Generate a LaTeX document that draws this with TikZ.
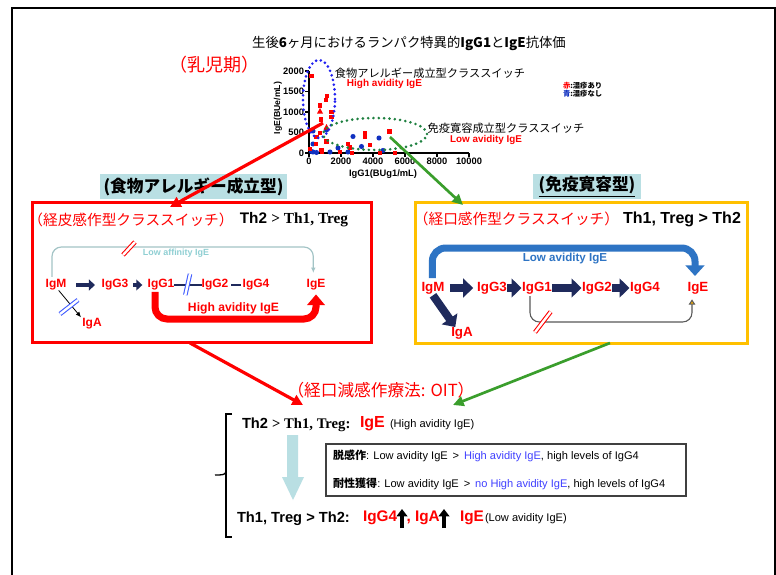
\documentclass[tikz,border=0pt]{standalone}
\usepackage{fontspec}
\setmainfont{Liberation Sans}
\newfontfamily\jp{Noto Sans CJK JP}
\newfontfamily\tms{Liberation Serif}
\usetikzlibrary{arrows.meta,calc}
\newcommand\fsz[1]{\fontsize{#1}{#1}\selectfont}
\definecolor{ired}{HTML}{FF0000}
\definecolor{navy}{HTML}{1F2A5C}
\definecolor{hdrbg}{HTML}{B9DFE3}
\definecolor{gold}{HTML}{FFC000}
\definecolor{avblue}{HTML}{2E74C4}
\definecolor{tealgray}{HTML}{A3C4C6}
\definecolor{tealtxt}{HTML}{8FCFD3}
\definecolor{agreen}{HTML}{3A9E2C}
\definecolor{dotblue}{HTML}{2020F0}
\definecolor{dotgreen}{HTML}{1E8040}
\definecolor{ptblue}{HTML}{1030C0}
\definecolor{hblue}{HTML}{4040FF}
\definecolor{slashblue}{HTML}{3F5BFF}
\definecolor{boxgray}{HTML}{404040}
\definecolor{ltarrow}{HTML}{B9DFE3}
\begin{document}
\begin{tikzpicture}[x=0.75pt,y=-0.75pt,
 txt/.style={inner sep=0pt,outer sep=0pt},
 igl/.style={txt,text=ired,font=\bfseries\fsz{9}},
 igr/.style={txt,text=ired,font=\bfseries\fsz{10}},
 jpt/.style={txt,font=\jp\fsz{8.4}},
 blkbig/.style={draw=navy,line width=6pt,-{Triangle[length=7.5pt,width=14pt]}},
 blksm/.style={draw=navy,line width=3pt,-{Triangle[length=4.5pt,width=8pt]}},
 dsl/.style={double=white,double distance=1.8pt,line width=0.8pt},
 dotb/.style={draw=dotblue,line width=2.2pt,line cap=round,dash pattern=on 0pt off 3.6pt},
 dotg/.style={draw=dotgreen,line width=2.2pt,line cap=round,dash pattern=on 0pt off 4pt},
 hdr/.style={fill=hdrbg,inner sep=0pt,font=\jp\bfseries\fsz{12.5}},
 axlab/.style={txt,font=\bfseries\fsz{7}},
]
\useasboundingbox (0,0) rectangle (776,575);
\fill[white] (0,0) rectangle (776,575);
% frame
\draw[line width=1.5pt] (11.5,580) -- (11.5,7.5) -- (774.5,7.5) -- (774.5,580);

% title
\node[txt,font=\jp\fsz{10}] (title) at (409,43) {生後{\bfseries 6}ヶ月におけるランパク特異的{\bfseries IgG1}と{\bfseries IgE}抗体価};
\node[txt,text=ired,font=\jp\fsz{13.5}] (infant) at (214,65) {（乳児期）};

% scatter axes
\draw[line width=1.3pt] (309,71) -- (309,153) -- (469,153);
\foreach \v/\yy in {2000/71,1500/91.5,1000/112,500/132.5,0/153}{
  \draw[line width=1pt] (305,\yy) -- (309,\yy);
  \node[axlab,anchor=east] at (304,\yy) {\v};
}
\foreach \v/\xx in {0/309,2000/341,4000/373,6000/405,8000/437,10000/469}{
  \draw[line width=1pt] (\xx,153) -- (\xx,157);
  \node[axlab] at (\xx,161) {\v};
}
\node[txt,font=\bfseries\fsz{7}] (xlab) at (383,174) {IgG1(BUg1/mL)};
\node[txt,font=\bfseries\fsz{6.5},rotate=90] (ylab) at (278,108) {IgE(BUe/mL)};

% data points
\foreach \px/\py in {313/131,313/144,311.5/151.5,316.5/152.5,326.5/130,338/148,348/152,353/136.5,379/138,361.5/146.5,383/150.5,313/152,330/152}
  \fill[ptblue] (\px,\py) circle (1.9pt);
\foreach \px/\py in {311.5/76,327/96,326/100,320/105.5,331.5/112,331.5/117,321/119.5,320/133,316.5/137,326.5/141.5,321.5/150,310/149,348/144,350/147.5,365/133,365/137,370/145,389.5/131.5,352/153,380/153,395/153,340/152,322/152,316/144}
  \fill[ired] (\px-2.3,\py-2.3) rectangle ++(4.6,4.6);
\foreach \px/\py in {320/111,326.5/127}
  \fill[ired] (\px,\py-3) -- (\px+3,\py+2.5) -- (\px-3,\py+2.5) -- cycle;

% ellipses
\draw[dotb] (319,99) ellipse [x radius=12pt, y radius=29.25pt];
\draw[dotg] (375,134) ellipse [x radius=39pt, y radius=12pt];

% scatter texts
\node[jpt] (allergyT) at (430,73) {食物アレルギー成立型クラススイッチ};
\node[txt,text=ired,font=\bfseries\fsz{7.5}] (highT) at (384.5,84) {High avidity IgE};
\node[jpt] (tolT) at (506,128) {免疫寛容成立型クラススイッチ};
\node[txt,text=ired,font=\bfseries\fsz{7.4}] (lowT) at (486,140) {Low avidity IgE};
\node[txt,anchor=west,font=\jp\bfseries\fsz{5.5}] (leg1) at (563,86) {\textcolor{ired}{赤}:湿疹あり};
\node[txt,anchor=west,font=\jp\bfseries\fsz{5.5}] (leg2) at (563,93.5) {\textcolor{ptblue}{青}:湿疹なし};

% headers and boxes
\node[hdr,minimum width=140pt,minimum height=18.75pt] (lhdr) at (193.5,186.5) {(食物アレルギー成立型)};
\node[hdr,minimum width=81pt,minimum height=18.75pt] (rhdr) at (587,186.5) {\underline{(免疫寛容型)}};
\node[draw=ired,line width=2.25pt,minimum width=254pt,minimum height=105pt,inner sep=0pt] (lbox) at (202,272) {};
\node[draw=gold,line width=2.25pt,minimum width=249pt,minimum height=105.75pt,inner sep=0pt] (rbox) at (581,272.5) {};

% arrows from scatter
\coordinate (sR1) at (323,123);
\coordinate (sR2) at (170,207);
\coordinate (sG1) at (390,137);
\coordinate (sG2) at (463,205);
\draw[ired,line width=2.4pt,-{Triangle[length=8pt,width=8pt]}] (sR1) -- (sR2);
\draw[agreen,line width=2pt,-{Triangle[length=8pt,width=7.5pt]}] (sG1) -- (sG2);

% left box content
\node[txt,text=ired,font=\jp\fsz{11}] (lsub) at (131,220) {（経皮感作型クラススイッチ）};
\node[txt,font=\bfseries\fsz{11.5}] (lth) at (294,220) {Th2 {\tms > Th1, Treg}};
\node[igl] (lIgM) at (56,285) {IgM};
\node[igl] (lIgG3) at (115,285) {IgG3};
\node[igl] (lIgG1) at (161,285) {IgG1};
\node[igl] (lIgG2) at (215,285) {IgG2};
\node[igl] (lIgG4) at (256,285) {IgG4};
\node[igl] (lIgE) at (316,285) {IgE};
\node[igl] (lIgA) at (92,324) {IgA};
\draw[blksm] ([xshift=7.5pt]lIgM.east) -- ([xshift=-5pt]lIgG3.west);
\draw[blksm] ([xshift=3.5pt]lIgG3.east) -- ([xshift=-4pt]lIgG1.west);
\draw[navy,line width=0.8pt] (lIgG1.east) -- (lIgG2.west);
\draw[navy,line width=0.8pt] ([xshift=2pt]lIgG2.east) -- ([xshift=-1pt]lIgG4.west);
\draw[line width=0.6pt,-{Latex[length=4pt,width=3.5pt]}] ([xshift=2pt]lIgM.south) -- ([xshift=-1pt,yshift=1pt]lIgA.north west);
\coordinate (lLow) at (0,319);
\coordinate (lTop) at (0,247);
\path (lIgE.north) ++(-2.7,0) coordinate (lEtop);
\draw[tealgray,line width=0.9pt,rounded corners=7pt,-{Latex[length=4pt,width=3.5pt]}] ([xshift=-3pt,yshift=2pt]lIgM.north) |- (lEtop |- lTop) -- ([yshift=5pt]lEtop);
\node[txt,text=tealtxt,font=\bfseries\fsz{6.7}] (laffT) at (176,253) {Low affinity IgE};
\draw[ired,line width=5.25pt,rounded corners=9pt,-{Triangle[length=8pt,width=13pt]}] ([xshift=-4.5pt,yshift=-1pt]lIgG1.south) |- (lIgE.south |- lLow) -- ([yshift=-3pt]lIgE.south);
\node[txt,text=ired,font=\bfseries\fsz{9.1}] (lhighT) at (233.5,308) {High avidity IgE};
\draw[dsl,draw=ired] (123,255) -- (135,242);
\draw[dsl,draw=slashblue] (185.3,295) -- (190,274);
\draw[dsl,draw=slashblue] (60,314) -- (78,300);

% right box content
\node[txt,text=ired,font=\jp\fsz{11}] (rsub) at (516.5,219) {（経口感作型クラススイッチ）};
\node[txt,font=\bfseries\fsz{12}] (rth) at (682,219) {Th1, Treg > Th2};
\node[igr] (rIgM) at (433,288) {IgM};
\node[igr] (rIgG3) at (492,288) {IgG3};
\node[igr] (rIgG1) at (537,288) {IgG1};
\node[igr] (rIgG2) at (597,288) {IgG2};
\node[igr] (rIgG4) at (645,288) {IgG4};
\node[igr] (rIgE) at (698,288) {IgE};
\node[igr] (rIgA) at (462,333) {IgA};
\draw[blkbig] ([xshift=4pt]rIgM.east) -- ([xshift=-3pt]rIgG3.west);
\draw[blkbig] ([xshift=0.5pt]rIgG3.east) -- ([xshift=-0.5pt]rIgG1.west);
\draw[blkbig] ([xshift=0.5pt]rIgG1.east) -- ([xshift=-0.5pt]rIgG2.west);
\draw[blkbig] ([xshift=0.5pt]rIgG2.east) -- ([xshift=-0.5pt]rIgG4.west);
\draw[blkbig] ([yshift=-1pt]rIgM.south) -- ([xshift=3pt]rIgA.north west);
\coordinate (rTop) at (0,248);
\coordinate (rLow) at (0,322);
\path (rIgE.north) ++(-3,0) coordinate (rEtop);
\draw[avblue,line width=5.25pt,rounded corners=10pt,-{Triangle[length=8pt,width=14pt]}] ([xshift=-0.5pt,yshift=3pt]rIgM.north) |- (rEtop |- rTop) -- ([yshift=4.5pt]rEtop);
\node[txt,text=avblue,font=\bfseries\fsz{8.7}] (rlowT) at (565,259) {Low avidity IgE};
\path (rIgG1.south) ++(-7,2) coordinate (rG1b);
\path (rIgE.south) ++(-6,0) coordinate (rEb);
\draw[gray!70!black,line width=0.8pt,rounded corners=7pt,-{Triangle[length=4pt,width=5pt,fill=gold!80!orange]}] (rG1b) |- (rEb |- rLow) -- ([yshift=-4pt]rEb);
\draw[dsl,draw=ired] (535,332.3) -- (550.7,311.7);

% arrows to OIT
\coordinate (bR1) at (190,343);
\coordinate (bR2) at (303,405);
\coordinate (bG1) at (610,343);
\coordinate (bG2) at (453,405);
\draw[ired,line width=2.4pt,-{Triangle[length=8pt,width=8pt]}] (bR1) -- (bR2);
\draw[agreen,line width=2pt,-{Triangle[length=8pt,width=7.5pt]}] (bG1) -- (bG2);
\node[txt,text=ired,font=\jp\fsz{12.5}] (oit) at (381,390) {（経口減感作療法: OIT）};

% bracket
\draw[line width=1pt] (232,414) -- (226,414) -- (226,537) -- (232,537);
\draw[line width=1pt] (226,471) .. controls (226,475) and (222,475) .. (215,475);

% top line
\node[txt,anchor=west,font=\bfseries\fsz{11}] (t2) at (242,425) {Th2 {\tms > Th1, Treg:}};
\node[txt,anchor=west,text=ired,font=\bfseries\fsz{12}] (tIgE) at (360,424) {IgE};
\node[txt,anchor=west,font=\fsz{8.3}] (tHigh) at (390,425) {(High avidity IgE)};

% light blue arrow
\fill[ltarrow] (287,435) -- (298,435) -- (298,477) -- (304,477) -- (293,500) -- (282,477) -- (287,477) -- cycle;

% box
\node[draw=boxgray,line width=0.8pt,minimum width=270pt,minimum height=39pt,inner sep=0pt] (obox) at (506,470) {};
\node[txt,anchor=west,font=\fsz{8.3}] (line1) at (333,456) {{\jp\bfseries 脱感作}: Low avidity IgE \,>\, \textcolor{hblue}{High avidity IgE}, high levels of IgG4};
\node[txt,anchor=west,font=\fsz{8.3}] (line2) at (333,484) {{\jp\bfseries 耐性獲得}: Low avidity IgE \,>\, \textcolor{hblue}{no High avidity IgE}, high levels of IgG4};

% bottom line
\node[txt,anchor=west,font=\bfseries\fsz{11}] (b1) at (237,519) {Th1, Treg > Th2:};
\node[txt,anchor=west,text=ired,font=\bfseries\fsz{11.5}] (bG4) at (363,518) {IgG4};
\coordinate (up1) at (402,528);
\coordinate (up2) at (444,528);
\draw[line width=3pt,-{Triangle[length=5.5pt,width=8pt]}] (up1) -- ++(0,-19);
\draw[line width=3pt,-{Triangle[length=5.5pt,width=8pt]}] (up2) -- ++(0,-19);
\node[txt,anchor=west,text=ired,font=\bfseries\fsz{11.5}] (bA) at (406.5,518) {, IgA};
\node[txt,anchor=west,text=ired,font=\bfseries\fsz{11.5}] (bE) at (460,518) {IgE};
\node[txt,anchor=west,font=\fsz{8.3}] (bLow) at (485,519) {(Low avidity IgE)};
\end{tikzpicture}
\end{document}
